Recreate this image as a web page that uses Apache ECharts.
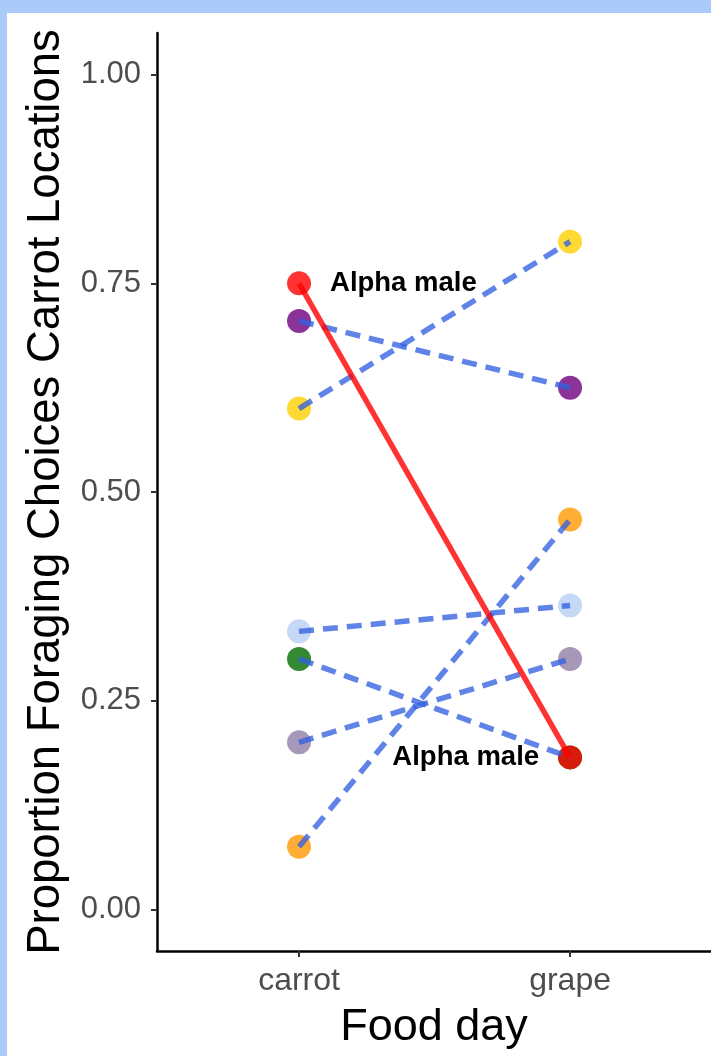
<!DOCTYPE html>
<html>
<head>
<meta charset="utf-8">
<script src="https://cdn.jsdelivr.net/npm/echarts@6/dist/echarts.min.js"></script>
<style>
  html, body { margin: 0; padding: 0; background: #AACBFA; width: 711px; height: 1056px; overflow: hidden; }
  #chart { position: absolute; left: 7px; top: 13px; width: 704px; height: 1043px; background: #ffffff; }
</style>
</head>
<body>
<div id="chart"></div>
<script>
const categories = ['carrot', 'grape'];
const individuals = ['green', 'alpha', 'purple', 'yellow', 'lightblue', 'lavender', 'orange'];
const carrotValues = [0.30, 0.75, 0.705, 0.60, 0.333, 0.20, 0.075];
const grapeValues  = [0.182, 0.182, 0.625, 0.80, 0.364, 0.30, 0.467];
const pointColors  = ['#006D00', '#FF0000', '#6E007E', '#FFCF00', '#B6CEF2', '#917DA6', '#FF9A00'];
const yTicks = [0, 0.25, 0.5, 0.75, 1.0];
const alphaLabel = 'Alpha male';
const alphaName = 'alpha';

const FONT = "'Liberation Sans', Arial, Helvetica, sans-serif";

const chart = echarts.init(document.getElementById('chart'), null, { renderer: 'canvas' });

// points: draw in order so alpha red overlays green at grape
const pointData = [];
individuals.forEach((name, i) => {
  [carrotValues[i], grapeValues[i]].forEach((v, ci) => {
    const item = {
      value: [ci, v],
      itemStyle: { color: pointColors[i], opacity: 0.8 }
    };
    if (name === alphaName) {
      item.label = {
        show: true,
        formatter: alphaLabel,
        position: ci === 0 ? 'right' : 'left',
        distance: 19,
        color: '#000000',
        opacity: 1,
        fontWeight: 'bold',
        fontSize: 27.5,
        fontFamily: FONT
      };
    }
    pointData.push(item);
  });
});

const lineSeries = individuals.map((name, i) => {
  const isAlpha = name === alphaName;
  return {
    type: 'line',
    name: name,
    data: [[0, carrotValues[i]], [1, grapeValues[i]]],
    symbol: 'none',
    silent: true,
    z: isAlpha ? 5 : 4,
    lineStyle: isAlpha
      ? { color: 'rgba(255,0,0,0.8)', width: 5.5, type: 'solid', cap: 'butt' }
      : { color: 'rgba(50,96,224,0.78)', width: 5.5, type: [15, 9], cap: 'butt' }
  };
});

chart.setOption({
  animation: false,
  backgroundColor: '#ffffff',
  grid: { left: 150, top: 20, right: 0, bottom: 105, containLabel: false },
  xAxis: {
    type: 'value',
    min: -0.524,
    max: 1.52,
    name: 'Food day',
    nameLocation: 'middle',
    nameGap: 54,
    nameTextStyle: { fontSize: 45, color: '#000000', fontFamily: FONT },
    axisLine: { show: true, onZero: false, lineStyle: { color: '#000000', width: 2.5 } },
    axisTick: { show: true, customValues: [0, 1], length: 6, lineStyle: { color: '#333333', width: 2 } },
    axisLabel: {
      show: true,
      customValues: [0, 1],
      formatter: v => categories[Math.round(v)],
      fontSize: 32,
      color: '#4D4D4D',
      margin: 14,
      fontFamily: FONT
    },
    splitLine: { show: false }
  },
  yAxis: {
    type: 'value',
    min: -0.05,
    max: 1.05,
    name: 'Proportion Foraging Choices Carrot Locations',
    nameLocation: 'middle',
    nameGap: 82,
    nameTextStyle: { fontSize: 45.5, color: '#000000', fontFamily: FONT },
    axisLine: { show: true, onZero: false, lineStyle: { color: '#000000', width: 2.5 } },
    axisTick: { show: true, customValues: yTicks, length: 6, lineStyle: { color: '#333333', width: 2 } },
    axisLabel: {
      show: true,
      customValues: yTicks,
      formatter: v => v.toFixed(2),
      fontSize: 31,
      color: '#4D4D4D',
      margin: 16,
      fontFamily: FONT
    },
    splitLine: { show: false }
  },
  series: [
    {
      type: 'scatter',
      name: 'points',
      data: pointData,
      symbol: 'circle',
      symbolSize: 24,
      z: 2
    }
  ].concat(lineSeries)
});
</script>
</body>
</html>
